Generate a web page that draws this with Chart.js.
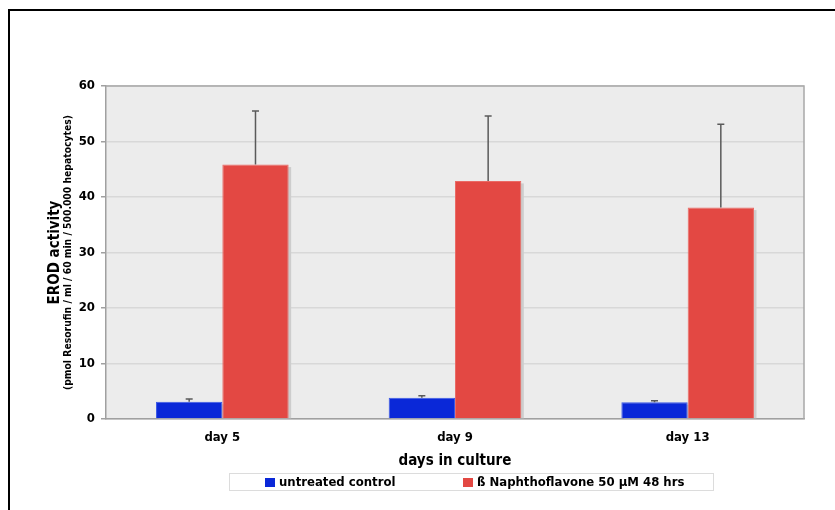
<!DOCTYPE html>
<html>
<head>
<meta charset="utf-8">
<script src="https://cdn.jsdelivr.net/npm/chart.js@4.4.1/dist/chart.umd.min.js"></script>
<style>
  body { margin: 0; background: #fff; }
  canvas { display: block; }
</style>
</head>
<body>
<canvas id="chartjs" width="835" height="510"></canvas>
<script>
// values
const days = ['day 5', 'day 9', 'day 13'];
const untreated = [3.1, 3.85, 3.0];
const untreatedErr = [0.5, 0.35, 0.3];
const naphtho = [45.85, 42.9, 38.1];
const naphthoErr = [9.65, 11.7, 15.0];
const yTicks = [0, 10, 20, 30, 40, 50, 60];

const FONT = "'DejaVu Sans Condensed', 'DejaVu Sans', sans-serif";

let chartNode = document.getElementById('chartjs').getContext('2d');

// background, frame, shadows, error bars, titles and boxed legend
const decorPlugin = {
    id: 'decor',
    beforeDraw: (chart) => {
        const ctx = chart.ctx;
        const a = chart.chartArea;
        ctx.save();
        ctx.fillStyle = '#ececec';
        ctx.fillRect(a.left, a.top, a.right - a.left, a.bottom - a.top);
        ctx.restore();
    },
    beforeDatasetsDraw: (chart) => {
        // soft drop shadow to the right of every bar
        const ctx = chart.ctx;
        ctx.save();
        ctx.fillStyle = '#cdcdcd';
        chart.data.datasets.forEach((ds, i) => {
            chart.getDatasetMeta(i).data.forEach((bar) => {
                const p = bar.getProps(['x', 'y', 'base', 'width'], true);
                ctx.fillRect(p.x - p.width / 2 + 2.5, p.y + 2.5, p.width, p.base - p.y - 2.5);
            });
        });
        ctx.restore();
    },
    afterDatasetsDraw: (chart) => {
        const ctx = chart.ctx;
        const a = chart.chartArea;
        const yScale = chart.scales.y;
        const errs = [untreatedErr, naphthoErr];
        ctx.save();
        // error bars (upper whisker only)
        ctx.strokeStyle = '#5a5a5a';
        ctx.lineWidth = 1.5;
        chart.data.datasets.forEach((ds, i) => {
            chart.getDatasetMeta(i).data.forEach((bar, j) => {
                const top = yScale.getPixelForValue(ds.data[j] + errs[i][j]);
                const yb = yScale.getPixelForValue(ds.data[j]);
                ctx.beginPath();
                ctx.moveTo(bar.x, yb);
                ctx.lineTo(bar.x, top);
                ctx.moveTo(bar.x - 3.5, top);
                ctx.lineTo(bar.x + 3.5, top);
                ctx.stroke();
            });
        });
        // top and right frame of the plot
        ctx.strokeStyle = '#a8a8a8';
        ctx.lineWidth = 1.5;
        ctx.beginPath();
        ctx.moveTo(a.left, a.top);
        ctx.lineTo(a.right, a.top);
        ctx.lineTo(a.right, a.bottom);
        ctx.stroke();
        ctx.restore();
    },
    afterDraw: (chart) => {
        const ctx = chart.ctx;
        const a = chart.chartArea;
        ctx.save();
        // outer black frame
        ctx.strokeStyle = '#000';
        ctx.lineWidth = 2;
        ctx.strokeRect(9, 10, 900, 600);

        // y title, two lines
        ctx.fillStyle = '#000';
        ctx.textAlign = 'center';
        ctx.textBaseline = 'middle';
        const cy = (a.top + a.bottom) / 2;
        ctx.translate(55, cy);
        ctx.rotate(-Math.PI / 2);
        ctx.font = 'bold 15px ' + FONT;
        ctx.fillText('EROD activity', 0, 0);
        ctx.font = 'bold 10.3px ' + FONT;
        ctx.fillText('(pmol Resorufin / ml / 60 min / 500.000 hepatocytes)', 0, 13);
        ctx.setTransform(1, 0, 0, 1, 0, 0);

        // x title
        ctx.font = 'bold 15px ' + FONT;
        ctx.fillText('days in culture', 455, 461);

        // legend box
        ctx.fillStyle = '#fff';
        ctx.fillRect(229, 473, 484, 17);
        ctx.strokeStyle = '#dcdcdc';
        ctx.lineWidth = 1;
        ctx.strokeRect(229.5, 473.5, 484, 17);
        const entries = [[265, 279], [463, 477]];
        ctx.font = 'bold 13px ' + FONT;
        ctx.textAlign = 'left';
        chart.data.datasets.forEach((ds, i) => {
            ctx.fillStyle = ds.backgroundColor;
            ctx.fillRect(entries[i][0], 478, 10, 9);
            ctx.fillStyle = '#000';
            ctx.fillText(ds.label, entries[i][1], 483);
        });
        ctx.restore();
    }
};

let erodChart = new Chart(chartNode, {
    type: 'bar',
    data: {
        labels: days,
        datasets: [{
            label: 'untreated control',
            data: untreated,
            backgroundColor: '#0a28d8',
            borderColor: '#3a58e6',
            borderWidth: 1,
            categoryPercentage: 0.57,
            barPercentage: 1.0
        }, {
            label: 'ß Naphthoflavone 50 µM 48 hrs',
            data: naphtho,
            backgroundColor: '#e34843',
            borderColor: '#ea6a65',
            borderWidth: 1,
            categoryPercentage: 0.57,
            barPercentage: 1.0
        }]
    },
    options: {
        responsive: false,
        animation: false,
        devicePixelRatio: 1,
        layout: { padding: { left: 0, top: 86, right: 31, bottom: 0 } },
        plugins: {
            legend: { display: false },
            tooltip: { enabled: false }
        },
        scales: {
            x: {
                afterFit: (scale) => { scale.height = 91; },
                grid: { display: false, drawTicks: false },
                border: { color: '#a0a0a0', width: 1.5 },
                ticks: {
                    padding: 11,
                    color: '#000',
                    font: { family: FONT, size: 13, weight: 'bold' }
                }
            },
            y: {
                min: 0,
                max: 60,
                afterFit: (scale) => { scale.width = 106; },
                afterBuildTicks: (scale) => { scale.ticks = yTicks.map(v => ({ value: v })); },
                grid: { color: '#d8d8d8', lineWidth: 1.5, tickLength: 5, tickColor: '#a0a0a0' },
                border: { color: '#a0a0a0', width: 1.5 },
                ticks: {
                    padding: 6,
                    color: '#000',
                    font: { family: FONT, size: 13, weight: 'bold' }
                }
            }
        }
    },
    plugins: [decorPlugin]
});
</script>
</body>
</html>
